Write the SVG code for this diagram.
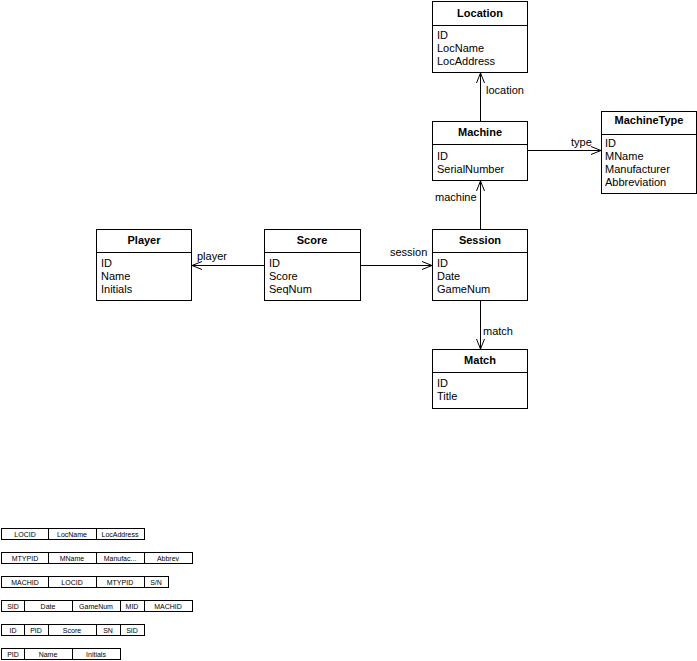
<svg xmlns="http://www.w3.org/2000/svg" width="697" height="661" viewBox="0 0 697 661">
<defs>
<marker id="open" markerUnits="userSpaceOnUse" markerWidth="12" markerHeight="10" refX="10" refY="4" orient="auto" overflow="visible">
<path d="M0,0 L10,4 L0,8" fill="none" stroke="#000" stroke-width="1"/>
</marker>
</defs>
<style>
.box{fill:#fff;stroke:#000;stroke-width:1}
.sep{stroke:#000;stroke-width:1}
.title{font-family:"Liberation Sans",Arial,sans-serif;font-size:11px;font-weight:bold;text-anchor:middle;fill:#000}
.attr{font-family:"Liberation Sans",Arial,sans-serif;font-size:11px;fill:#000}
.lbl{font-family:"Liberation Sans",Arial,sans-serif;font-size:11px;fill:#000}
.conn{stroke:#000;stroke-width:1;fill:none;marker-end:url(#open)}
.cell{fill:#fff;stroke:#000;stroke-width:1}
.ct{font-family:"Liberation Sans",Arial,sans-serif;font-size:7px;text-anchor:middle;fill:#000}
</style>
<rect width="697" height="661" fill="#fff"/>
<g id="connectors">
<line class="conn" x1="480.5" y1="121" x2="480.5" y2="73"/>
<line class="conn" x1="528" y1="150.5" x2="601" y2="150.5"/>
<line class="conn" x1="480.5" y1="229" x2="480.5" y2="181"/>
<line class="conn" x1="264" y1="265.5" x2="192" y2="265.5"/>
<line class="conn" x1="361" y1="265.5" x2="432" y2="265.5"/>
<line class="conn" x1="480.5" y1="301" x2="480.5" y2="349"/>
<text class="lbl" x="486" y="94">location</text>
<text class="lbl" x="571" y="146">type</text>
<text class="lbl" x="435" y="201">machine</text>
<text class="lbl" x="197" y="260">player</text>
<text class="lbl" x="390" y="256">session</text>
<text class="lbl" x="483" y="335">match</text>
</g>
<g id="Location">
<rect class="box" x="432.5" y="1.5" width="95" height="71"/>
<line class="sep" x1="432.5" y1="25.5" x2="527.5" y2="25.5"/>
<text class="title" x="480" y="17">Location</text>
<text class="attr" x="437" y="39">ID</text>
<text class="attr" x="437" y="52">LocName</text>
<text class="attr" x="437" y="65">LocAddress</text>
</g>
<g id="Machine">
<rect class="box" x="432.5" y="121.5" width="95" height="59"/>
<line class="sep" x1="432.5" y1="144.5" x2="527.5" y2="144.5"/>
<text class="title" x="480" y="136">Machine</text>
<text class="attr" x="437" y="160">ID</text>
<text class="attr" x="437" y="173">SerialNumber</text>
</g>
<g id="MachineType">
<rect class="box" x="601.5" y="111.5" width="95" height="82"/>
<line class="sep" x1="601.5" y1="134.5" x2="696.5" y2="134.5"/>
<text class="title" x="649" y="124">MachineType</text>
<text class="attr" x="605" y="147">ID</text>
<text class="attr" x="605" y="160">MName</text>
<text class="attr" x="605" y="173">Manufacturer</text>
<text class="attr" x="605" y="186">Abbreviation</text>
</g>
<g id="Player">
<rect class="box" x="96.5" y="229.5" width="95" height="71"/>
<line class="sep" x1="96.5" y1="252.5" x2="191.5" y2="252.5"/>
<text class="title" x="144" y="244">Player</text>
<text class="attr" x="101" y="267">ID</text>
<text class="attr" x="101" y="280">Name</text>
<text class="attr" x="101" y="293">Initials</text>
</g>
<g id="Score">
<rect class="box" x="264.5" y="229.5" width="96" height="71"/>
<line class="sep" x1="264.5" y1="252.5" x2="360.5" y2="252.5"/>
<text class="title" x="312" y="244">Score</text>
<text class="attr" x="269" y="267">ID</text>
<text class="attr" x="269" y="280">Score</text>
<text class="attr" x="269" y="293">SeqNum</text>
</g>
<g id="Session">
<rect class="box" x="432.5" y="229.5" width="95" height="71"/>
<line class="sep" x1="432.5" y1="252.5" x2="527.5" y2="252.5"/>
<text class="title" x="480" y="244">Session</text>
<text class="attr" x="437" y="267">ID</text>
<text class="attr" x="437" y="280">Date</text>
<text class="attr" x="437" y="293">GameNum</text>
</g>
<g id="Match">
<rect class="box" x="432.5" y="349.5" width="95" height="59"/>
<line class="sep" x1="432.5" y1="372.5" x2="527.5" y2="372.5"/>
<text class="title" x="480" y="364">Match</text>
<text class="attr" x="437" y="387">ID</text>
<text class="attr" x="437" y="400">Title</text>
</g>
<g id="tables">
<g id="t-location">
<rect class="cell" x="1.5" y="528.5" width="47" height="11"/>
<rect class="cell" x="48.5" y="528.5" width="48" height="11"/>
<rect class="cell" x="96.5" y="528.5" width="48" height="11"/>
<text class="ct" x="25" y="537">LOCID</text>
<text class="ct" x="72" y="537">LocName</text>
<text class="ct" x="120" y="537">LocAddress</text>
</g>
<g id="t-machinetype">
<rect class="cell" x="1.5" y="552.5" width="47" height="11"/>
<rect class="cell" x="48.5" y="552.5" width="48" height="11"/>
<rect class="cell" x="96.5" y="552.5" width="48" height="11"/>
<rect class="cell" x="144.5" y="552.5" width="48" height="11"/>
<text class="ct" x="25" y="561">MTYPID</text>
<text class="ct" x="72" y="561">MName</text>
<text class="ct" x="120" y="561">Manufac...</text>
<text class="ct" x="168" y="561">Abbrev</text>
</g>
<g id="t-machine">
<rect class="cell" x="1.5" y="576.5" width="47" height="11"/>
<rect class="cell" x="48.5" y="576.5" width="48" height="11"/>
<rect class="cell" x="96.5" y="576.5" width="48" height="11"/>
<rect class="cell" x="144.5" y="576.5" width="24" height="11"/>
<text class="ct" x="25" y="585">MACHID</text>
<text class="ct" x="72" y="585">LOCID</text>
<text class="ct" x="120" y="585">MTYPID</text>
<text class="ct" x="156" y="585">S/N</text>
</g>
<g id="t-session">
<rect class="cell" x="1.5" y="600.5" width="23" height="11"/>
<rect class="cell" x="24.5" y="600.5" width="48" height="11"/>
<rect class="cell" x="72.5" y="600.5" width="48" height="11"/>
<rect class="cell" x="120.5" y="600.5" width="24" height="11"/>
<rect class="cell" x="144.5" y="600.5" width="48" height="11"/>
<text class="ct" x="13" y="609">SID</text>
<text class="ct" x="48" y="609">Date</text>
<text class="ct" x="96" y="609">GameNum</text>
<text class="ct" x="132" y="609">MID</text>
<text class="ct" x="168" y="609">MACHID</text>
</g>
<g id="t-score">
<rect class="cell" x="1.5" y="624.5" width="23" height="11"/>
<rect class="cell" x="24.5" y="624.5" width="24" height="11"/>
<rect class="cell" x="48.5" y="624.5" width="48" height="11"/>
<rect class="cell" x="96.5" y="624.5" width="24" height="11"/>
<rect class="cell" x="120.5" y="624.5" width="24" height="11"/>
<text class="ct" x="13" y="633">ID</text>
<text class="ct" x="36" y="633">PID</text>
<text class="ct" x="72" y="633">Score</text>
<text class="ct" x="108" y="633">SN</text>
<text class="ct" x="132" y="633">SID</text>
</g>
<g id="t-player">
<rect class="cell" x="1.5" y="648.5" width="23" height="11"/>
<rect class="cell" x="24.5" y="648.5" width="48" height="11"/>
<rect class="cell" x="72.5" y="648.5" width="48" height="11"/>
<text class="ct" x="13" y="657">PID</text>
<text class="ct" x="48" y="657">Name</text>
<text class="ct" x="96" y="657">Initials</text>
</g>
</g>
</svg>
